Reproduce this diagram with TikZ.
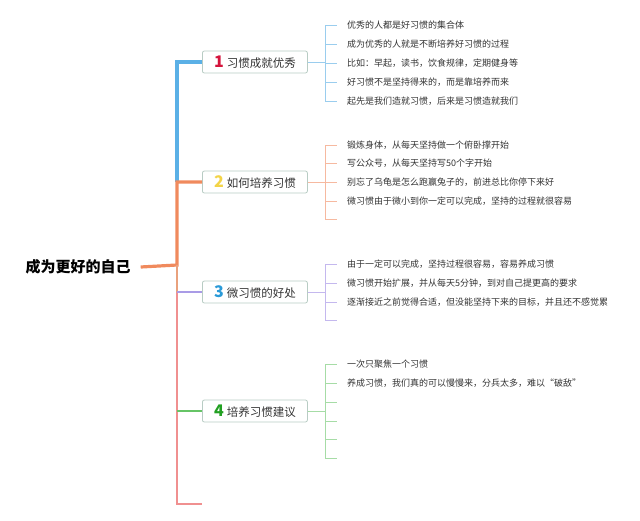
\documentclass[tikz,border=0pt]{standalone}
\usepackage{fontspec}
\newfontfamily\cjk{Noto Sans CJK SC}
\usetikzlibrary{positioning}

\definecolor{brblue}{HTML}{5BB0E6}
\definecolor{brorange}{HTML}{F08A5D}
\definecolor{brtan}{HTML}{E9A17D}
\definecolor{brpurple}{HTML}{A99BE6}
\definecolor{brgreen}{HTML}{66C466}
\definecolor{brpink}{HTML}{F09090}
\definecolor{lfblue}{HTML}{9ACDEE}
\definecolor{lforange}{HTML}{F6B9A0}
\definecolor{lfpurple}{HTML}{C4B8EE}
\definecolor{lfgreen}{HTML}{A6DCA6}
\definecolor{numred}{HTML}{D4143C}
\definecolor{numyellow}{HTML}{F3D447}
\definecolor{numblue}{HTML}{2A9AD8}
\definecolor{numgreen}{HTML}{22A022}
\definecolor{boxgray}{HTML}{B8CCC4}
\definecolor{leafgray}{HTML}{333333}

\newcommand{\topicnum}[2]{{\color{#1}\fontsize{16}{16}\selectfont\bfseries #2}\hspace{3pt}}

\begin{document}
\begin{tikzpicture}[x=1pt,y=-1pt,
  trunkline/.style={line width=3.2pt},
  limbline/.style={line width=2.6pt},
  bracket/.style={line width=0.9pt},
  topic/.style={draw=boxgray, fill=white, rounded corners=2pt, line width=0.8pt,
    minimum width=105pt, minimum height=22pt, inner sep=0pt, anchor=west,
    font=\cjk\fontsize{11.5}{13}\selectfont, text=leafgray},
  leaf/.style={anchor=west, inner xsep=10pt, inner ysep=1pt,
    font=\cjk\fontsize{9}{11}\selectfont, text=leafgray}]

  \useasboundingbox (0,0) rectangle (640,520);

  % Root
  \node[font=\cjk\fontsize{15}{17}\selectfont\bfseries, inner xsep=10pt] (root) at (78,267) {成为更好的自己};

  % Trunk
  \coordinate (t1) at (177,62);
  \coordinate (t2) at (177,182);
  \coordinate (t0) at (177,265);
  \coordinate (t3) at (177,292);
  \coordinate (t4) at (177,411);
  \coordinate (t5) at (177,504);
  \coordinate (e5) at (202,504);

  % Topics
  \node[topic] (b1) at (202,62) {\topicnum{numred}{1}习惯成就优秀};
  \node[topic] (b2) at (202,182) {\topicnum{numyellow}{2}如何培养习惯};
  \node[topic] (b3) at (202,292) {\topicnum{numblue}{3}微习惯的好处};
  \node[topic] (b4) at (202,411) {\topicnum{numgreen}{4}培养习惯建议};

  % Branch lines
  \draw[trunkline, brblue, line join=miter] (t2) -- (t1) -- (b1.west);
  \draw[trunkline, brorange, line join=miter] (root.east) -- (t0) -- (t2) -- (b2.west);
  \draw[limbline, brtan] (t0) -- (t3);
  \draw[limbline, brpink, line join=miter] (t3) -- (t5) -- (e5);
  \draw[limbline, brpurple] (t3) -- (b3.west);
  \draw[limbline, brgreen] (t4) -- (b4.west);

  % Leaves 1
  \coordinate (k1) at (325,62);
  \node[leaf] (l11) at (337,25) {优秀的人都是好习惯的集合体};
  \node[leaf] (l12) at (337,44) {成为优秀的人就是不断培养好习惯的过程};
  \node[leaf] (l13) at (337,63) {比如：早起，读书，饮食规律，定期健身等};
  \node[leaf] (l14) at (337,82) {好习惯不是坚持得来的，而是靠培养而来};
  \node[leaf] (l15) at (337,101) {起先是我们造就习惯，后来是习惯造就我们};
  \draw[bracket, lfblue] (b1.east) -- (k1);
  \foreach \i in {1,...,5}
    \draw[bracket, lfblue] (k1) |- (l1\i.west);

  % Leaves 2
  \coordinate (k2) at (325,182);
  \node[leaf] (l21) at (337,145) {锻炼身体，从每天坚持做一个俯卧撑开始};
  \node[leaf] (l22) at (337,163) {写公众号，从每天坚持写50个字开始};
  \node[leaf] (l23) at (337,182) {别忘了乌龟是怎么跑赢兔子的，前进总比你停下来好};
  \node[leaf] (l24) at (337,201) {微习惯由于微小到你一定可以完成，坚持的过程就很容易};
  \node[leaf] (l25) at (337,219) {};
  \draw[bracket, lforange] (b2.east) -- (k2);
  \foreach \i in {1,...,5}
    \draw[bracket, lforange] (k2) |- (l2\i.west);

  % Leaves 3
  \coordinate (k3) at (325,292);
  \node[leaf] (l31) at (337,264) {由于一定可以完成，坚持过程很容易，容易养成习惯};
  \node[leaf] (l32) at (337,283) {微习惯开始扩展，并从每天5分钟，到对自己提更高的要求};
  \node[leaf] (l33) at (337,302) {逐渐接近之前觉得合适，但没能坚持下来的目标，并且还不感觉累};
  \node[leaf] (l34) at (337,320) {};
  \draw[bracket, lfpurple] (b3.east) -- (k3);
  \foreach \i in {1,...,4}
    \draw[bracket, lfpurple] (k3) |- (l3\i.west);

  % Leaves 4
  \coordinate (k4) at (325,411);
  \node[leaf] (l41) at (337,364) {一次只聚焦一个习惯};
  \node[leaf] (l42) at (337,383) {养成习惯，我们真的可以慢慢来，分兵太多，难以“破敌”};
  \node[leaf] (l43) at (337,402) {};
  \node[leaf] (l44) at (337,421) {};
  \node[leaf] (l45) at (337,439) {};
  \node[leaf] (l46) at (337,458) {};
  \draw[bracket, lfgreen] (b4.east) -- (k4);
  \foreach \i in {1,...,6}
    \draw[bracket, lfgreen] (k4) |- (l4\i.west);
\end{tikzpicture}
\end{document}
